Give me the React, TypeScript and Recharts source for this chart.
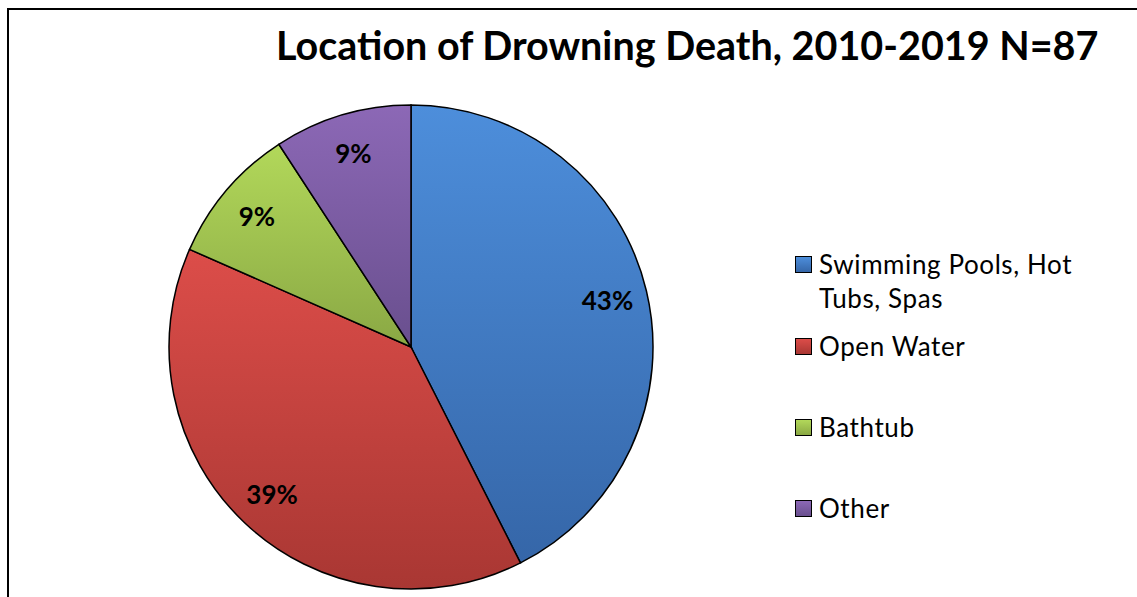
import { Cell, Legend, Pie, PieChart } from 'recharts'

const categories = ['Swimming Pools, Hot Tubs, Spas', 'Open Water', 'Bathtub', 'Other']
const deaths = [37, 34, 8, 8]
const chartTitle = 'Location of Drowning Death, 2010-2019 N=87'

const sliceColors = [
  { id: 'gBlue', top: '#4d8edb', bottom: '#3566a8' },
  { id: 'gRed', top: '#dc4d49', bottom: '#a93733' },
  { id: 'gGreen', top: '#b2d85a', bottom: '#8aa844' },
  { id: 'gPurple', top: '#8c68b6', bottom: '#694f8e' },
]

const data = categories.map((name, i) => ({ name, value: deaths[i] }))

const FONT = 'Lato, "Open Sans", sans-serif'
const RAD = Math.PI / 180

function renderLabel(props: any) {
  const { cx, cy, midAngle, outerRadius, percent } = props
  const r = outerRadius * 0.835
  const x = cx + r * Math.cos(-midAngle * RAD)
  const y = cy + r * Math.sin(-midAngle * RAD)
  return (
    <text
      x={x}
      y={y}
      textAnchor="middle"
      dominantBaseline="central"
      fill="#000"
      fontFamily={FONT}
      fontWeight={700}
      fontSize={26}
    >
      {`${Math.round(percent * 100)}%`}
    </text>
  )
}

// excel style legend, rows are not evenly spaced
const rowTops = [0, 82, 163, 244]

function DrowningLegend() {
  return (
    <div style={{ position: 'relative', width: 320, height: 300, fontFamily: FONT }}>
      {data.map((d, i) => (
        <div
          key={d.name}
          style={{
            position: 'absolute',
            top: rowTops[i],
            left: 0,
            display: 'flex',
            alignItems: 'flex-start',
          }}
        >
          <div
            style={{
              width: 15,
              height: 15,
              marginTop: 9,
              marginRight: 7,
              border: '1.5px solid #000',
              background: `linear-gradient(${sliceColors[i].top}, ${sliceColors[i].bottom})`,
            }}
          />
          <div
            style={{
              width: 280,
              fontSize: 26,
              letterSpacing: 0.6,
              lineHeight: '34px',
              color: '#000',
            }}
          >
            {d.name}
          </div>
        </div>
      ))}
    </div>
  )
}

export default function App() {
  return (
    <div
      style={{
        position: 'fixed',
        top: 0,
        left: 0,
        width: 1137,
        height: 597,
        overflow: 'hidden',
        background: '#fff',
      }}
    >
      <div
        style={{
          position: 'absolute',
          left: 7,
          top: 8,
          width: 1160,
          height: 620,
          border: '2px solid #000',
        }}
      />
      <div
        style={{
          position: 'absolute',
          left: 276,
          top: 21,
          fontFamily: FONT,
          fontWeight: 700,
          fontSize: 39.5,
          whiteSpace: 'nowrap',
          color: '#000',
        }}
      >
        {chartTitle}
      </div>
      <div style={{ position: 'absolute', left: 0, top: 0 }}>
        <PieChart width={1137} height={597} margin={{ top: 0, right: 0, bottom: 0, left: 0 }}>
          <defs>
            {sliceColors.map((c) => (
              <linearGradient key={c.id} id={c.id} x1="0" y1="0" x2="0" y2="1">
                <stop offset="0%" stopColor={c.top} />
                <stop offset="100%" stopColor={c.bottom} />
              </linearGradient>
            ))}
          </defs>
          <Pie
            data={data}
            dataKey="value"
            nameKey="name"
            cx={411}
            cy={347}
            outerRadius={242}
            startAngle={90}
            endAngle={-270}
            stroke="#000"
            strokeWidth={1.5}
            label={renderLabel}
            labelLine={false}
            isAnimationActive={false}
          >
            {data.map((d, i) => (
              <Cell key={d.name} fill={`url(#${sliceColors[i].id})`} />
            ))}
          </Pie>
          <Legend
            layout="vertical"
            content={() => <DrowningLegend />}
            wrapperStyle={{ position: 'absolute', left: 795, top: 247, width: 320 }}
          />
        </PieChart>
      </div>
    </div>
  )
}
